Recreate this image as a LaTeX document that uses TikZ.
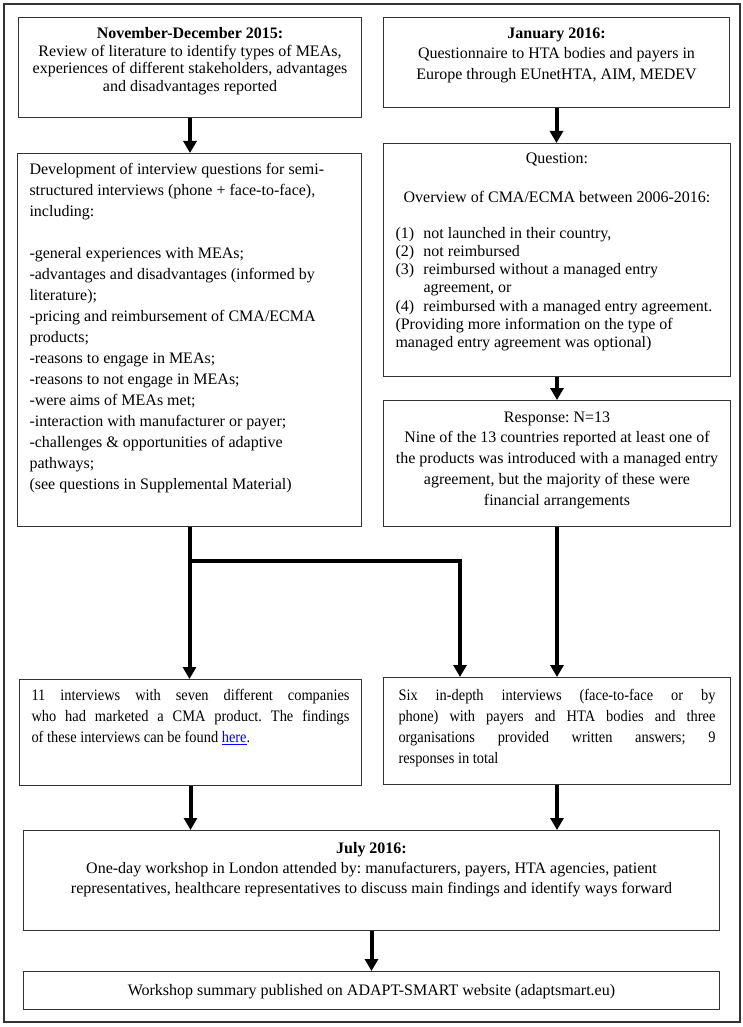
\documentclass[tikz,border=0pt]{standalone}
\usepackage{fontspec}
\setmainfont{Liberation Serif}
\usetikzlibrary{arrows.meta}

\tikzset{
  stage/.style={draw=black!80, line width=1pt, anchor=north west, inner xsep=12pt, inner ysep=0pt},
  flow/.style={line width=4pt, -{Triangle[width=13pt,length=12pt]}},
  frame/.style={draw=black!80, line width=1.5pt},
}
\newcommand{\setleading}[1]{\fontsize{16pt}{#1}\selectfont\frenchspacing}

\begin{document}
\begin{tikzpicture}[x=1pt, y=-1pt]
\useasboundingbox (0,0) rectangle (743,1027);
\draw[frame] (4,4) rectangle (740,1022);

% first row
\node[stage, inner xsep=8pt] (review) at (18,17)
  {\parbox[c][100pt][t]{327pt}{\setleading{17.7pt}\centering\vspace*{10pt}%
    \textbf{November-December 2015:}\\
    Review of literature to identify types of MEAs,\\
    experiences of different stakeholders, advantages\\
    and disadvantages reported}};
\node[stage, inner xsep=8pt] (questionnaire) at (383,17)
  {\parbox[c][90pt][t]{330pt}{\setleading{20.5pt}\centering\vspace*{10pt}%
    \textbf{January 2016:}\\
    Questionnaire to HTA bodies and payers in\\
    Europe through EUnetHTA, AIM, MEDEV}};

% interview questions and questionnaire
\node[stage] (development) at (17,153)
  {\parbox[c][373pt][t]{320pt}{\setleading{21pt}\raggedright\vspace*{10pt}%
    Development of interview questions for semi-\\
    structured interviews (phone + face-to-face),\\
    including:\\[21pt]
    -general experiences with MEAs;\\
    -advantages and disadvantages (informed by\\
    literature);\\
    -pricing and reimbursement of CMA/ECMA\\
    products;\\
    -reasons to engage in MEAs;\\
    -reasons to not engage in MEAs;\\
    -were aims of MEAs met;\\
    -interaction with manufacturer or payer;\\
    -challenges \& opportunities of adaptive\\
    pathways;\\
    (see questions in Supplemental Material)}};
\node[stage] (question) at (383,143)
  {\parbox[c][233pt][t]{323pt}{\setleading{18.3pt}\vspace*{9pt}%
    {\centering Question:\\[20.7pt]
    Overview of CMA/ECMA between 2006-2016:\par}
    \vspace{17.7pt}\raggedright
    \makebox[28pt][l]{(1)}not launched in their country,\\
    \makebox[28pt][l]{(2)}not reimbursed\\
    \makebox[28pt][l]{(3)}reimbursed without a managed entry\\
    \hspace*{28pt}agreement, or\\
    \makebox[28pt][l]{(4)}reimbursed with a managed entry agreement.\\
    (Providing more information on the type of\\
    managed entry agreement was optional)}};
\node[stage, inner xsep=10pt] (response) at (383,400)
  {\parbox[c][126pt][t]{327pt}{\setleading{20.8pt}\centering\vspace*{11pt}%
    Response: N=13\\
    Nine of the 13 countries reported at least one of\\
    the products was introduced with a managed entry\\
    agreement, but the majority of these were\\
    financial arrangements}};

% interviews
\node[stage] (companies) at (19,679)
  {\parbox[c][106pt][t]{318pt}{\setleading{21pt}\addfontfeature{FakeStretch=0.9}\vspace*{10pt}%
    11 interviews with seven different companies\linebreak
    who had marketed a CMA product. The findings\linebreak
    of these interviews can be found \textcolor{blue}{\underline{here}}.}};
\node[stage, inner xsep=15pt] (payers) at (383,677)
  {\parbox[c][107pt][t]{317pt}{\setleading{21pt}\addfontfeature{FakeStretch=0.9}\vspace*{12pt}%
    Six in-depth interviews (face-to-face or by\linebreak
    phone) with payers and HTA bodies and three\linebreak
    organisations provided written answers; 9\linebreak
    responses in total}};

% workshop
\node[stage] (workshop) at (23,830)
  {\parbox[c][100pt][t]{672pt}{\setleading{20pt}\centering\vspace*{12pt}%
    \textbf{July 2016:}\\
    One-day workshop in London attended by: manufacturers, payers, HTA agencies, patient\\
    representatives, healthcare representatives to discuss main findings and identify ways forward}};
\node[stage] (summary) at (23,971)
  {\parbox[c][38pt][t]{672pt}{\setleading{20pt}\centering\vspace*{12.8pt}%
    Workshop summary published on ADAPT-SMART website (adaptsmart.eu)}};

% connectors
\coordinate (turn) at (460,561);
\draw[flow] (review.south) -- (review.south |- development.north);
\draw[flow] (questionnaire.south) -- (questionnaire.south |- question.north);
\draw[flow] (question.south) -- (question.south |- response.north);
\draw[flow] (development.south) -- (development.south |- companies.north);
\draw[flow] (development.south |- turn) -- (turn) -- (turn |- payers.north);
\draw[flow] (response.south) -- (response.south |- payers.north);
\draw[flow] (companies.south) -- (companies.south |- workshop.north);
\draw[flow] (payers.south) -- (payers.south |- workshop.north);
\draw[flow] (workshop.south) -- (workshop.south |- summary.north);
\end{tikzpicture}
\end{document}
